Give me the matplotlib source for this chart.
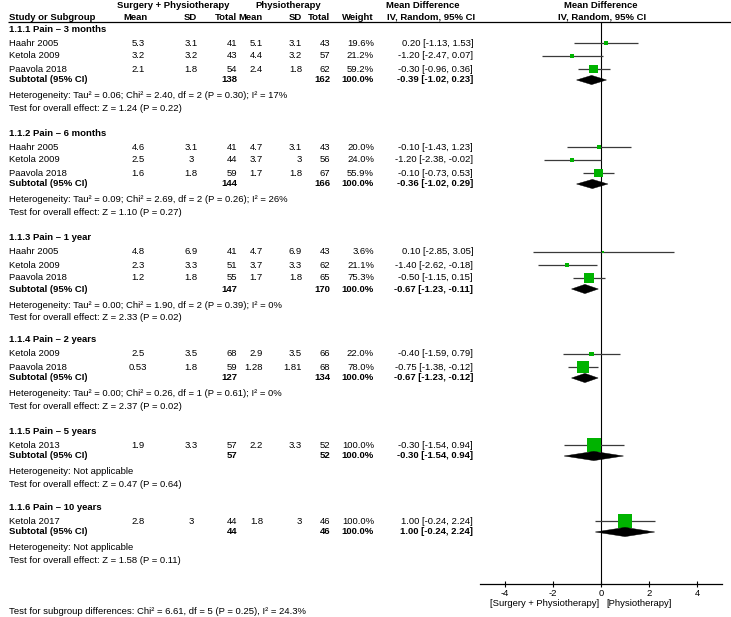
#!/usr/bin/env python
# -*- coding: utf-8 -*-

"""Forest plot: surgery + physiotherapy vs physiotherapy, pain outcomes."""

import numpy as np
import matplotlib
matplotlib.use("Agg")
import matplotlib.pyplot as plt
from matplotlib.patches import Polygon

plt.rcParams['font.family'] = ['Liberation Sans', 'DejaVu Sans']

# --- data -------------------------------------------------------------------
group_names = ['1.1.1 Pain \u2013 3 months', '1.1.2 Pain \u2013 6 months',
               '1.1.3 Pain \u2013 1 year', '1.1.4 Pain \u2013 2 years',
               '1.1.5 Pain \u2013 5 years', '1.1.6 Pain \u2013 10 years']

study_group = [0, 0, 0, 1, 1, 1, 2, 2, 2, 3, 3, 4, 5]
study_name = ['Haahr 2005', 'Ketola 2009', 'Paavola 2018',
              'Haahr 2005', 'Ketola 2009', 'Paavola 2018',
              'Haahr 2005', 'Ketola 2009', 'Paavola 2018',
              'Ketola 2009', 'Paavola 2018',
              'Ketola 2013', 'Ketola 2017']
mean_surg = [5.3, 3.2, 2.1, 4.6, 2.5, 1.6, 4.8, 2.3, 1.2, 2.5, 0.53, 1.9, 2.8]
sd_surg = [3.1, 3.2, 1.8, 3.1, 3, 1.8, 6.9, 3.3, 1.8, 3.5, 1.8, 3.3, 3]
n_surg = [41, 43, 54, 41, 44, 59, 41, 51, 55, 68, 59, 57, 44]
mean_phys = [5.1, 4.4, 2.4, 4.7, 3.7, 1.7, 4.7, 3.7, 1.7, 2.9, 1.28, 2.2, 1.8]
sd_phys = [3.1, 3.2, 1.8, 3.1, 3, 1.8, 6.9, 3.3, 1.8, 3.5, 1.81, 3.3, 3]
n_phys = [43, 57, 62, 43, 56, 67, 43, 62, 65, 66, 68, 52, 46]
weight = [19.6, 21.2, 59.2, 20.0, 24.0, 55.9, 3.6, 21.1, 75.3, 22.0, 78.0, 100.0, 100.0]
md = [0.20, -1.20, -0.30, -0.10, -1.20, -0.10, 0.10, -1.40, -0.50, -0.40, -0.75, -0.30, 1.00]
ci_low = [-1.13, -2.47, -0.96, -1.43, -2.38, -0.73, -2.85, -2.62, -1.15, -1.59, -1.38, -1.54, -0.24]
ci_high = [1.53, 0.07, 0.36, 1.23, -0.02, 0.53, 3.05, -0.18, 0.15, 0.79, -0.12, 0.94, 2.24]

sub_n_surg = [138, 144, 147, 127, 57, 44]
sub_n_phys = [162, 166, 170, 134, 52, 46]
sub_md = [-0.39, -0.36, -0.67, -0.67, -0.30, 1.00]
sub_low = [-1.02, -1.02, -1.23, -1.23, -1.54, -0.24]
sub_high = [0.23, 0.29, -0.11, -0.12, 0.94, 2.24]
heterogeneity = [
    'Tau\u00b2 = 0.06; Chi\u00b2 = 2.40, df = 2 (P = 0.30); I\u00b2 = 17%',
    'Tau\u00b2 = 0.09; Chi\u00b2 = 2.69, df = 2 (P = 0.26); I\u00b2 = 26%',
    'Tau\u00b2 = 0.00; Chi\u00b2 = 1.90, df = 2 (P = 0.39); I\u00b2 = 0%',
    'Tau\u00b2 = 0.00; Chi\u00b2 = 0.26, df = 1 (P = 0.61); I\u00b2 = 0%',
    'Not applicable',
    'Not applicable',
]
overall_z = ['Z = 1.24 (P = 0.22)', 'Z = 1.10 (P = 0.27)', 'Z = 2.33 (P = 0.02)',
             'Z = 2.37 (P = 0.02)', 'Z = 0.47 (P = 0.64)', 'Z = 1.58 (P = 0.11)']
subgroup_test = 'Test for subgroup differences: Chi\u00b2 = 6.61, df = 5 (P = 0.25), I\u00b2 = 24.3%'
axis_ticks = [-4, -2, 0, 2, 4]
favours = ['[Surgery + Physiotherapy]', '[Physiotherapy]']

# --- layout (pixels, figure is 731 x 617) -------------------------------------
W, H = 731, 617
FS = 6.8
GREEN = '#00b300'
group_top = [29, 133, 238, 340, 431, 507]
X_NAME = 9
X_MEAN1, X_SD1, X_TOT1 = 138, 191, 237
X_MEAN2, X_SD2, X_TOT2 = 263, 302, 330
X_WEIGHT, X_MD = 374, 473
AXIS_Y, TOP_Y = 584, 22
PX_PER_UNIT, ZERO_X, XLIM = 24.0, 601.0, 5.05


def fmt(v):
    return f"{v:g}"


def fmt_ci(m, lo, hi):
    return f"{m:.2f} [{lo:.2f}, {hi:.2f}]"


def draw_headers(ax):
    kw = dict(fontsize=FS, fontweight='bold', va='center')
    ax.text(173, 5, 'Surgery + Physiotherapy', ha='center', **kw)
    ax.text(288, 5, 'Physiotherapy', ha='center', **kw)
    ax.text(423, 5, 'Mean Difference', ha='center', **kw)
    ax.text(601, 5, 'Mean Difference', ha='center', **kw)
    ax.text(X_NAME, 17, 'Study or Subgroup', ha='left', **kw)
    ax.text(136, 17, 'Mean', ha='center', **kw)
    ax.text(197, 17, 'SD', ha='right', **kw)
    ax.text(X_TOT1, 17, 'Total', ha='right', **kw)
    ax.text(X_MEAN2, 17, 'Mean', ha='right', **kw)
    ax.text(X_SD2, 17, 'SD', ha='right', **kw)
    ax.text(X_TOT2, 17, 'Total', ha='right', **kw)
    ax.text(X_WEIGHT, 17, 'Weight', ha='right', **kw)
    ax.text(387, 17, 'IV, Random, 95% CI', ha='left', **kw)
    ax.text(602, 17, 'IV, Random, 95% CI', ha='center', **kw)
    ax.plot([8, W], [TOP_Y, TOP_Y], color='black', lw=0.9, solid_capstyle='butt')


def create_plot():
    fig = plt.figure(figsize=(W / 100, H / 100), dpi=100)

    # text table, in pixel coordinates
    ax = fig.add_axes([0, 0, 1, 1])
    ax.set_xlim(0, W)
    ax.set_ylim(H, 0)
    ax.axis('off')

    # forest panel
    left = ZERO_X - XLIM * PX_PER_UNIT
    axf = fig.add_axes([left / W, (H - AXIS_Y) / H,
                        2 * XLIM * PX_PER_UNIT / W, (AXIS_Y - TOP_Y) / H])
    axf.set_xlim(-XLIM, XLIM)
    axf.set_ylim(AXIS_Y, TOP_Y)
    axf.patch.set_visible(False)
    for side in ['top', 'left', 'right']:
        axf.spines[side].set_visible(False)
    axf.spines['bottom'].set_linewidth(0.9)
    axf.set_yticks([])
    axf.set_xticks(axis_ticks)
    axf.set_xticklabels([str(t) for t in axis_ticks], fontsize=FS)
    axf.tick_params(axis='x', direction='inout', length=5, width=0.8, pad=1)
    axf.axvline(0, color='black', lw=0.8, zorder=1)

    draw_headers(ax)

    norm = dict(fontsize=FS, va='center')
    bold = dict(fontsize=FS, va='center', fontweight='bold')
    study_idx = np.arange(len(study_name))
    for g, gname in enumerate(group_names):
        y = group_top[g]
        ax.text(X_NAME, y, gname, ha='left', **bold)
        members = study_idx[np.array(study_group) == g]
        for k, i in enumerate(members):
            ys = y + 14 + 13 * k
            ax.text(X_NAME, ys, study_name[i], ha='left', **norm)
            ax.text(X_MEAN1, ys, fmt(mean_surg[i]), ha='center', **norm)
            ax.text(X_SD1, ys, fmt(sd_surg[i]), ha='center', **norm)
            ax.text(X_TOT1, ys, str(n_surg[i]), ha='right', **norm)
            ax.text(X_MEAN2, ys, fmt(mean_phys[i]), ha='right', **norm)
            ax.text(X_SD2, ys, fmt(sd_phys[i]), ha='right', **norm)
            ax.text(X_TOT2, ys, str(n_phys[i]), ha='right', **norm)
            ax.text(X_WEIGHT, ys, f"{weight[i]:.1f}%", ha='right', **norm)
            ax.text(X_MD, ys, fmt_ci(md[i], ci_low[i], ci_high[i]), ha='right', **norm)

            axf.plot([ci_low[i], ci_high[i]], [ys, ys], color='#3a3a3a', lw=0.9,
                     zorder=2, solid_capstyle='butt')
            side_px = 1.5 + 12.5 * weight[i] / 100.0
            axf.scatter([md[i]], [ys], marker='s', s=(side_px * 0.72) ** 2,
                        color=GREEN, edgecolors='none', zorder=3, clip_on=False)

        ysub = y + 14 + 13 * (len(members) - 1) + 11
        ax.text(X_NAME, ysub, 'Subtotal (95% CI)', ha='left', **bold)
        ax.text(X_TOT1, ysub, str(sub_n_surg[g]), ha='right', **bold)
        ax.text(X_TOT2, ysub, str(sub_n_phys[g]), ha='right', **bold)
        ax.text(X_WEIGHT, ysub, '100.0%', ha='right', **bold)
        ax.text(X_MD, ysub, fmt_ci(sub_md[g], sub_low[g], sub_high[g]), ha='right', **bold)

        hh = 4.6
        diamond = Polygon([(sub_low[g], ysub), (sub_md[g], ysub - hh),
                           (sub_high[g], ysub), (sub_md[g], ysub + hh)],
                          closed=True, facecolor='black', edgecolor='black',
                          lw=0.3, zorder=4)
        axf.add_patch(diamond)

        ax.text(X_NAME, ysub + 16, 'Heterogeneity: ' + heterogeneity[g], ha='left', **norm)
        ax.text(X_NAME, ysub + 28.5, 'Test for overall effect: ' + overall_z[g],
                ha='left', **norm)

    ax.text(599, 604, favours[0], ha='right', **norm)
    ax.text(606, 604, favours[1], ha='left', **norm)
    ax.text(X_NAME, 612, subgroup_test, ha='left', **norm)

    fig.savefig('out.png', dpi=100)
    plt.close(fig)


def main():
    create_plot()


if __name__ == '__main__':
    main()
